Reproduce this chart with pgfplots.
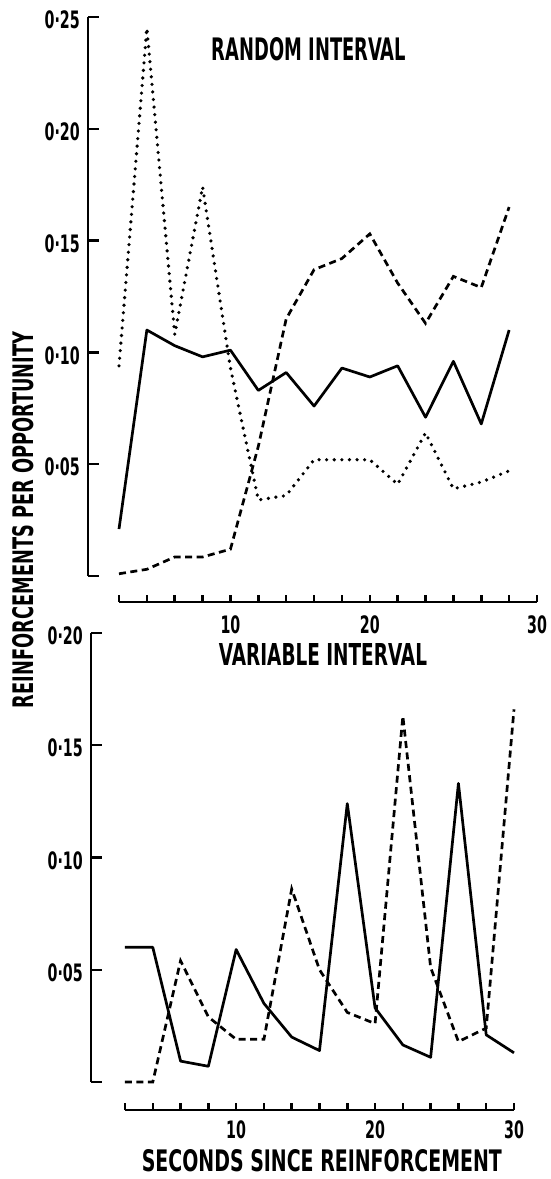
\documentclass[border=0pt]{standalone}
\usepackage{fontspec}
\usepackage{graphicx}
\usepackage{pgfplots}
\usepackage{pgfplotstable}
\pgfplotsset{compat=1.18}
\newfontfamily\lab[FakeStretch=0.66]{DejaVu Sans Condensed Bold}

\pgfplotstableread{
x solid dotted dashed
2 0.021 0.094 0.001
4 0.110 0.245 0.003
6 0.103 0.108 0.0085
8 0.098 0.174 0.0085
10 0.101 0.093 0.012
12 0.083 0.034 0.058
14 0.091 0.036 0.115
16 0.076 0.052 0.137
18 0.093 0.052 0.142
20 0.089 0.052 0.153
22 0.094 0.041 0.131
24 0.071 0.064 0.113
26 0.096 0.039 0.134
28 0.068 0.042 0.129
30 0.110 0.047 0.165
}\toptable

\pgfplotstableread{
x solid dashed
2 0.060 0.000
4 0.060 0.000
6 0.0093 0.054
8 0.007 0.029
10 0.059 0.019
12 0.035 0.019
14 0.020 0.086
16 0.014 0.050
18 0.124 0.031
20 0.033 0.026
22 0.0165 0.163
24 0.011 0.051
26 0.133 0.018
28 0.021 0.024
30 0.013 0.166
}\bottable

\tikzset{
  solidl/.style={draw=black, line width=2.7pt, line join=round},
  dottedl/.style={draw=black, line width=3.6pt, line cap=round, dash pattern=on 0pt off 7.6pt},
  dashedl/.style={draw=black, line width=2.7pt, dash pattern=on 7pt off 4.5pt},
}

\pgfplotsset{
  oldstyle/.style={
    scale only axis,
    separate axis lines,
    axis x line*=bottom,
    axis y line*=left,
    clip=false,
    axis line style={line width=2.9pt, line cap=butt},
    tick align=inside,
    major tick length=11pt,
    minor tick length=7pt,
    every tick/.style={line width=2.5pt, black},
    major x tick style={draw=none},
    ticklabel style={font=\lab\fontsize{24}{24}\selectfont},
    yticklabel style={inner sep=0pt, anchor=east, xshift=-8pt, yshift=-3pt},
    ytick={0,0.05,0.10,0.15,0.20,0.25},
    yticklabels={,0·05,0·10,0·15,0·20,0·25},
  }
}

\begin{document}
\begin{tikzpicture}
\useasboundingbox (0,0) rectangle (550pt,1179pt);
% top panel
\begin{axis}[oldstyle,
  at={(119pt,603pt)}, anchor=south west,
  width=418pt, height=559pt,
  xmin=2, xmax=32, ymin=0, ymax=0.25,
  axis y line shift=31pt, axis x line shift=26pt,
  xtick={10,20,32}, xticklabels={10,20,30},
  minor xtick={2,4,...,32},
  xticklabel style={inner sep=0pt, anchor=north, yshift=-13pt},
]
\addplot[solidl] table[x=x, y=solid] {\toptable};
\addplot[dottedl] table[x=x, y=dotted] {\toptable};
\addplot[dashedl] table[x=x, y=dashed] {\toptable};
\node at (rel axis cs:0.4545,0.942) {\resizebox{194pt}{23pt}{\lab RANDOM INTERVAL}};
\node[rotate=90] at (rel axis cs:-0.2285,0.1002) {\resizebox{376pt}{21pt}{\lab REINFORCEMENTS PER OPPORTUNITY}};
\end{axis}
% bottom panel
\begin{axis}[oldstyle,
  at={(125pt,97pt)}, anchor=south west,
  width=389pt, height=449pt,
  xmin=2, xmax=30, ymin=0, ymax=0.20,
  axis y line shift=34pt, axis x line shift=28pt,
  xtick={10,20,30}, xticklabels={10,20,30},
  minor xtick={2,4,...,30},
  xticklabel style={inner sep=0pt, anchor=north, yshift=-10pt},
]
\addplot[solidl] table[x=x, y=solid] {\bottable};
\addplot[dashedl] table[x=x, y=dashed] {\bottable};
\node at (rel axis cs:0.509,0.953) {\resizebox{208pt}{22pt}{\lab VARIABLE INTERVAL}};
\node at (rel axis cs:0.506,-0.176) {\resizebox{360pt}{22pt}{\lab SECONDS SINCE REINFORCEMENT}};
\end{axis}
\end{tikzpicture}
\end{document}
